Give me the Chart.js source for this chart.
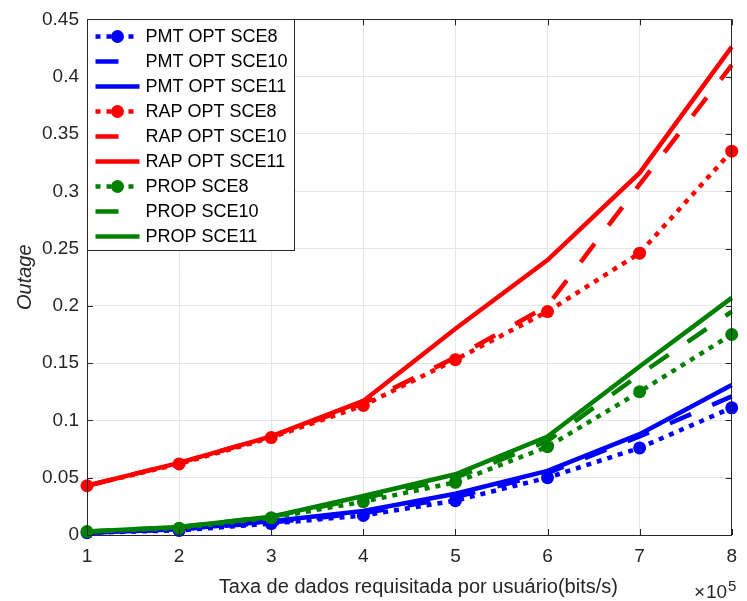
<!DOCTYPE html>
<html>
<head>
<meta charset="utf-8">
<script src="https://cdn.jsdelivr.net/npm/chart.js@4.4.1/dist/chart.umd.min.js"></script>
<style>
  html, body { margin: 0; padding: 0; background: #ffffff; }
  #wrap { width: 747px; height: 601px; position: relative; }
</style>
</head>
<body>
<div id="wrap"><canvas id="c" width="747" height="601"></canvas></div>
<script>
// Requested data rate per user (×10^5 bits/s)
const rates = [1, 2, 3, 4, 5, 6, 7, 8];

// Outage probability per scheme and scenario
const pmtOptSce8  = [0.002, 0.004, 0.010, 0.017, 0.030, 0.050, 0.076, 0.111];
const pmtOptSce10 = [0.002, 0.005, 0.011, 0.019, 0.033, 0.054, 0.086, 0.121];
const pmtOptSce11 = [0.002, 0.005, 0.012, 0.021, 0.036, 0.056, 0.088, 0.131];
const rapOptSce8  = [0.043, 0.062, 0.085, 0.113, 0.153, 0.195, 0.246, 0.335];
const rapOptSce10 = [0.043, 0.063, 0.086, 0.115, 0.155, 0.200, 0.306, 0.410];
const rapOptSce11 = [0.043, 0.063, 0.086, 0.117, 0.180, 0.240, 0.316, 0.426];
const propSce8    = [0.003, 0.006, 0.015, 0.029, 0.046, 0.077, 0.125, 0.175];
const propSce10   = [0.003, 0.007, 0.016, 0.032, 0.050, 0.082, 0.140, 0.195];
const propSce11   = [0.003, 0.007, 0.016, 0.034, 0.053, 0.086, 0.147, 0.207];

const seriesNames = [
  'PMT OPT SCE8', 'PMT OPT SCE10', 'PMT OPT SCE11',
  'RAP OPT SCE8', 'RAP OPT SCE10', 'RAP OPT SCE11',
  'PROP SCE8', 'PROP SCE10', 'PROP SCE11'
];
const yTicks = [0, 0.05, 0.1, 0.15, 0.2, 0.25, 0.3, 0.35, 0.4, 0.45];

const BLUE = '#0000ff', RED = '#ff0000', GREEN = '#008000';
const FONT = '"Liberation Sans", Arial, Helvetica, sans-serif';
const AXIS_COLOR = '#262626';

const DOTTED = [5, 6];
const DASHED = [23, 23];

function series(label, values, color, dash, markers) {
  return {
    label: label,
    data: values.map((v, i) => ({ x: rates[i], y: v })),
    borderColor: color,
    backgroundColor: color,
    borderWidth: 4.5,
    borderDash: dash,
    borderCapStyle: 'butt',
    borderJoinStyle: 'miter',
    pointRadius: markers ? 6.5 : 0,
    pointHoverRadius: markers ? 6.5 : 0,
    pointBorderWidth: 0,
    pointBackgroundColor: color,
    pointStyle: 'circle',
    tension: 0,
    fill: false,
    clip: 8
  };
}

const datasets = [
  series(seriesNames[0], pmtOptSce8,  BLUE,  DOTTED, true),
  series(seriesNames[1], pmtOptSce10, BLUE,  DASHED, false),
  series(seriesNames[2], pmtOptSce11, BLUE,  [],     false),
  series(seriesNames[3], rapOptSce8,  RED,   DOTTED, true),
  series(seriesNames[4], rapOptSce10, RED,   DASHED, false),
  series(seriesNames[5], rapOptSce11, RED,   [],     false),
  series(seriesNames[6], propSce8,    GREEN, DOTTED, true),
  series(seriesNames[7], propSce10,   GREEN, DASHED, false),
  series(seriesNames[8], propSce11,   GREEN, [],     false)
];
// later series are painted on top of earlier ones
datasets.forEach((d, i) => { d.order = datasets.length - i; });

// Box around the axes with inward ticks on all four sides, plus axis titles
const frame = {
  id: 'frame',
  afterDatasetsDraw(chart) {
    const { ctx, chartArea: a, scales: { x, y } } = chart;
    ctx.save();
    ctx.strokeStyle = AXIS_COLOR;
    ctx.lineWidth = 1;
    ctx.strokeRect(Math.round(a.left) + 0.5, Math.round(a.top) + 0.5,
                   Math.round(a.right - a.left) - 1, Math.round(a.bottom - a.top));
    const tl = 6;
    ctx.beginPath();
    rates.forEach(v => {
      const px = Math.round(x.getPixelForValue(v)) + 0.5;
      ctx.moveTo(px, a.bottom); ctx.lineTo(px, a.bottom - tl);
      ctx.moveTo(px, a.top); ctx.lineTo(px, a.top + tl);
    });
    yTicks.forEach(v => {
      const py = Math.round(y.getPixelForValue(v)) + 0.5;
      ctx.moveTo(a.left, py); ctx.lineTo(a.left + tl, py);
      ctx.moveTo(a.right, py); ctx.lineTo(a.right - tl, py);
    });
    ctx.stroke();

    // axis titles
    ctx.fillStyle = AXIS_COLOR;
    ctx.font = '20px ' + FONT;
    ctx.textAlign = 'center';
    ctx.textBaseline = 'alphabetic';
    ctx.fillText('Taxa de dados requisitada por usuário(bits/s)', (a.left + a.right) / 2 + 9, 593);

    ctx.save();
    ctx.translate(31, (a.top + a.bottom) / 2);
    ctx.rotate(-Math.PI / 2);
    ctx.font = 'italic 20px ' + FONT;
    ctx.fillText('Outage', 0, 0);
    ctx.restore();

    // exponent of the x axis
    ctx.textAlign = 'left';
    ctx.font = '19px ' + FONT;
    ctx.fillText('\u00d7', 694, 598);
    ctx.fillText('10', 706, 598);
    ctx.font = '15px ' + FONT;
    ctx.fillText('5', 728, 591);
    ctx.restore();
  }
};

// Legend box in the upper-left corner of the axes
const legendBox = {
  id: 'legendBox',
  afterDraw(chart) {
    const { ctx, chartArea: a } = chart;
    const left = Math.round(a.left) + 0.5, top = Math.round(a.top) + 0.5;
    const w = 207, h = 231;
    ctx.save();
    ctx.fillStyle = '#ffffff';
    ctx.fillRect(left, top, w, h);
    ctx.strokeStyle = AXIS_COLOR;
    ctx.lineWidth = 1;
    ctx.strokeRect(left, top, w, h);
    ctx.font = '18px ' + FONT;
    ctx.textBaseline = 'middle';
    ctx.textAlign = 'left';
    datasets.forEach((d, i) => {
      const cy = top + 17 + i * 25;
      const x0 = left + 8, x1 = left + 52;
      ctx.strokeStyle = d.borderColor;
      ctx.lineWidth = d.borderWidth;
      ctx.lineCap = 'butt';
      ctx.setLineDash(d.borderDash);
      ctx.beginPath();
      ctx.moveTo(x0, cy); ctx.lineTo(x1, cy);
      ctx.stroke();
      ctx.setLineDash([]);
      if (d.pointRadius > 0) {
        ctx.fillStyle = d.borderColor;
        ctx.beginPath();
        ctx.arc((x0 + x1) / 2, cy, d.pointRadius, 0, Math.PI * 2);
        ctx.fill();
      }
      ctx.fillStyle = '#000000';
      ctx.fillText(d.label, left + 58, cy + 1);
    });
    ctx.restore();
  }
};

new Chart(document.getElementById('c'), {
  type: 'line',
  data: { datasets: datasets },
  options: {
    responsive: false,
    animation: false,
    events: [],
    layout: { padding: { left: 0, right: 5, top: 17, bottom: 0 } },
    plugins: { legend: { display: false }, tooltip: { enabled: false } },
    scales: {
      x: {
        type: 'linear',
        min: 1, max: 8,
        afterFit(s) { s.height = 66; },
        afterBuildTicks(s) { s.ticks = rates.map(v => ({ value: v })); },
        ticks: {
          color: AXIS_COLOR,
          font: { family: FONT, size: 19 },
          padding: 10,
          maxRotation: 0,
          callback: v => String(v)
        },
        grid: { color: '#e6e6e6', lineWidth: 1, drawTicks: false },
        border: { display: false }
      },
      y: {
        type: 'linear',
        min: 0, max: 0.45,
        afterFit(s) { s.width = 87; },
        afterBuildTicks(s) { s.ticks = yTicks.map(v => ({ value: v })); },
        ticks: {
          color: AXIS_COLOR,
          font: { family: FONT, size: 19 },
          padding: 8,
          callback: v => String(Number(v.toFixed(2)))
        },
        grid: { color: '#e6e6e6', lineWidth: 1, drawTicks: false },
        border: { display: false }
      }
    }
  },
  plugins: [frame, legendBox]
});
</script>
</body>
</html>
